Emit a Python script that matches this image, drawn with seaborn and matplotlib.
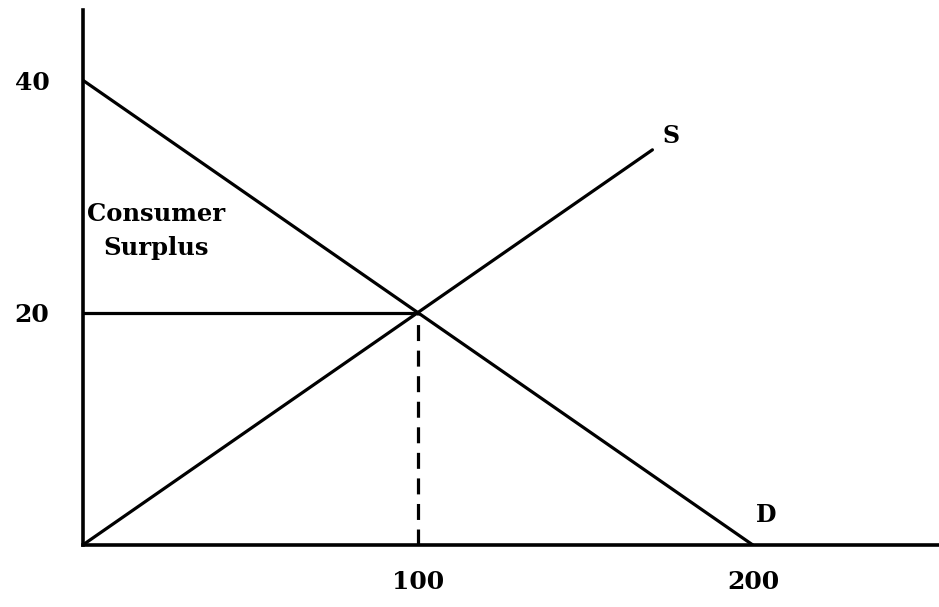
import matplotlib
matplotlib.use("Agg")
import matplotlib.pyplot as plt
import seaborn as sns
import pandas as pd

# Data
demand_q = [0, 200]
demand_p = [40, 0]
supply_q = [0, 170]
supply_p = [0, 34]
eq_q = 100
eq_p = 20
x_ticks = [100, 200]
y_ticks = [20, 40]

sns.set_style("white")
plt.rcParams['font.family'] = ['DejaVu Serif', 'Liberation Serif']
plt.rcParams['font.weight'] = 'bold'
plt.rcParams['text.color'] = 'black'
plt.rcParams['xtick.color'] = 'black'
plt.rcParams['ytick.color'] = 'black'

fig = plt.figure(figsize=(9.39, 6.07), dpi=100)
ax = fig.add_axes([0.088, 0.102, 0.912, 0.881])

dem = pd.DataFrame({"Q": demand_q, "P": demand_p})
sup = pd.DataFrame({"Q": supply_q, "P": supply_p})
hline = pd.DataFrame({"Q": [0, eq_q], "P": [eq_p, eq_p]})
vline = pd.DataFrame({"Q": [eq_q, eq_q], "P": [0, eq_p]})
kw = dict(color="black", lw=2.3, estimator=None, sort=False, errorbar=None)
sns.lineplot(data=dem, x="Q", y="P", ax=ax, **kw)
sns.lineplot(data=sup, x="Q", y="P", ax=ax, **kw)
sns.lineplot(data=hline, x="Q", y="P", ax=ax, **kw)
sns.lineplot(data=vline, x="Q", y="P", ax=ax, linestyle=(0, (5, 3)), **kw)

ax.text(supply_q[-1] + 3, supply_p[-1] + 1.2, "S", fontsize=17, fontweight="bold",
        ha="left", va="center", color="black")
ax.text(demand_q[-1] + 1, 2.6, "D", fontsize=17, fontweight="bold",
        ha="left", va="center", color="black")
ax.text(22, 27.0, "Consumer\nSurplus", fontsize=17.5, fontweight="bold",
        ha="center", va="center", linespacing=1.5, color="black")

ax.set_xlim(0, 255.5)
ax.set_ylim(0, 46)
ax.set_xticks(x_ticks)
ax.set_xticklabels([str(v) for v in x_ticks])
ax.set_yticks(y_ticks)
ax.set_yticklabels([str(v) for v in y_ticks])
ax.tick_params(axis="x", length=0, labelsize=18, pad=18)
ax.tick_params(axis="y", length=0, labelsize=18, pad=24)
for lab in ax.get_xticklabels() + ax.get_yticklabels():
    lab.set_fontweight("bold")
ax.set_xlabel("")
ax.set_ylabel("")
for s in ["top", "right"]:
    ax.spines[s].set_visible(False)
for s in ["left", "bottom"]:
    ax.spines[s].set_color("black")
    ax.spines[s].set_linewidth(2.6)

fig.savefig("out.png", dpi=100, facecolor="white")
